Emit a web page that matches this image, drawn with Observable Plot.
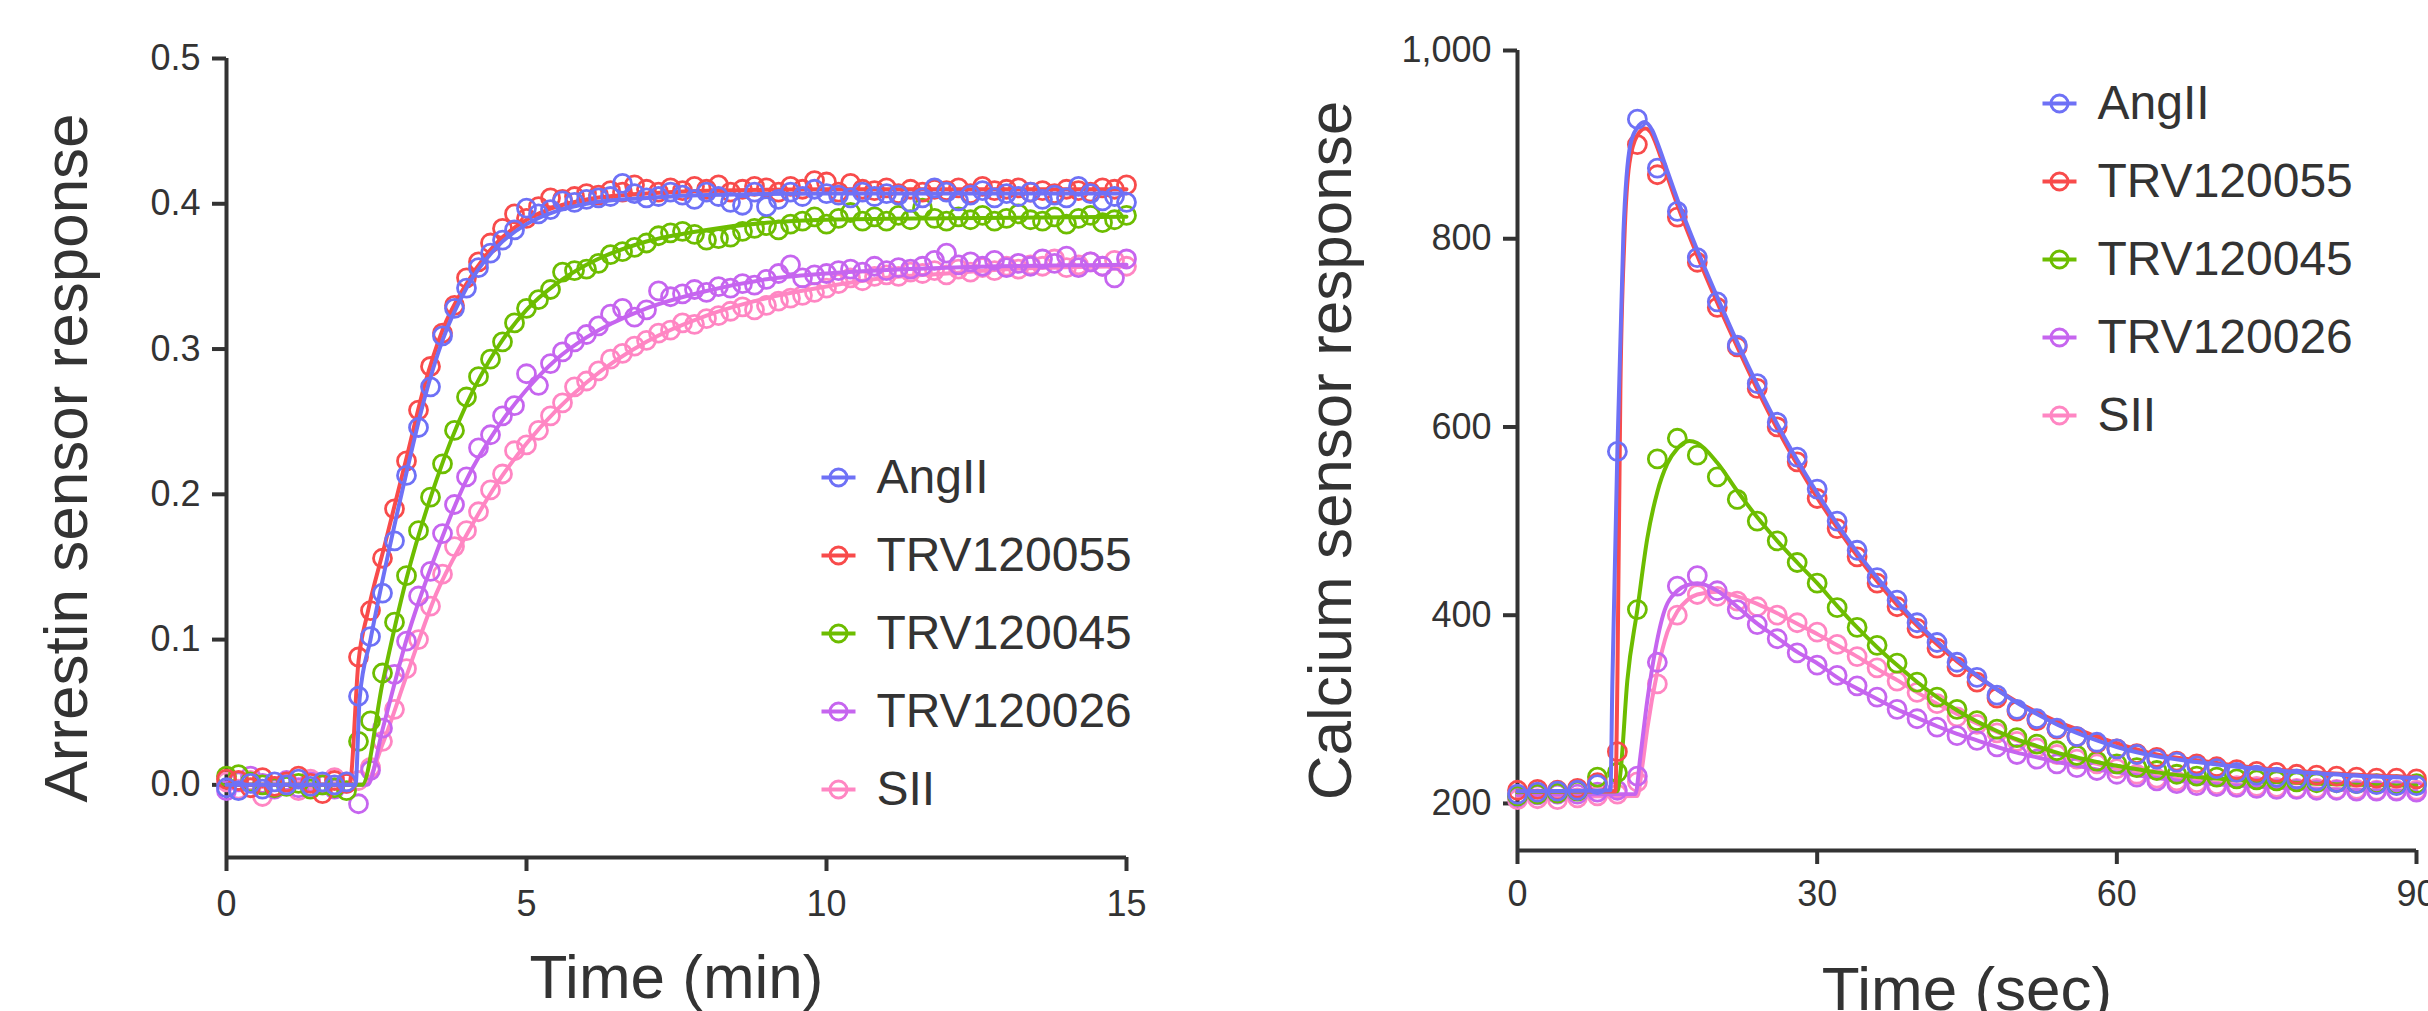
<!DOCTYPE html>
<html>
<head>
<meta charset="utf-8">
<script src="https://cdn.jsdelivr.net/npm/d3@7"></script>
<script src="https://cdn.jsdelivr.net/npm/@observablehq/plot@0.6"></script>
<style>
html, body { margin: 0; padding: 0; background: #fff; overflow: hidden; }
#wrap { position: relative; width: 2428px; height: 1011px; background: #fff; }
#left, #right { position: absolute; top: 0; }
#left { left: 0; width: 1200px; }
#right { left: 1250px; width: 1178px; }
#wrap svg { max-width: none !important; display: block; }
</style>
</head>
<body>
<div id="wrap"><div id="left"></div><div id="right"></div></div>
<script>
// ---------- shared ----------
const seriesNames = ["AngII", "TRV120055", "TRV120045", "TRV120026", "SII"];
const seriesColors = ["#6e71f6", "#f84b4b", "#6dbd00", "#c665ef", "#ff86c3"];

// ---------- left panel: arrestin (time in min) ----------
const arrTimeMin = [0,0.2,0.4,0.6,0.8,1,1.2,1.4,1.6,1.8,2,2.2,2.4,2.6,2.8,3,3.2,3.4,3.6,3.8,4,4.2,4.4,4.6,4.8,5,5.2,5.4,5.6,5.8,6,6.2,6.4,6.6,6.8,7,7.2,7.4,7.6,7.8,8,8.2,8.4,8.6,8.8,9,9.2,9.4,9.6,9.8,10,10.2,10.4,10.6,10.8,11,11.2,11.4,11.6,11.8,12,12.2,12.4,12.6,12.8,13,13.2,13.4,13.6,13.8,14,14.2,14.4,14.6,14.8,15];
const arrAngII = [-0.002,-0.004,0.001,-0.003,0.002,0.000,0.004,-0.001,0.002,0.000,0.002,
  0.061,0.102,0.132,0.168,0.213,0.246,0.274,0.309,0.328,0.342,0.356,0.366,0.375,0.382,
  0.397,0.393,0.396,0.402,0.401,0.403,0.404,0.405,0.414,0.407,0.404,0.405,0.408,0.406,0.403,0.408,0.405,0.401,0.399,0.408,0.398,0.403,0.408,0.405,0.410,0.407,0.406,0.404,0.408,0.405,0.407,0.406,0.401,0.404,0.411,0.408,0.402,0.406,0.409,0.404,0.407,0.405,0.408,0.403,0.406,0.404,0.412,0.407,0.402,0.405,0.401];
const arrTRV120055 = [0.004,0.003,-0.002,0.005,-0.001,0.002,0.006,0.001,-0.006,0.003,0.001,
  0.088,0.120,0.156,0.190,0.223,0.258,0.288,0.311,0.330,0.349,0.360,0.373,0.383,0.393,
  0.390,0.398,0.404,0.403,0.405,0.407,0.406,0.409,0.408,0.413,0.410,0.408,0.411,0.409,0.412,0.410,0.413,0.408,0.410,0.412,0.411,0.408,0.412,0.410,0.416,0.415,0.408,0.414,0.410,0.409,0.411,0.407,0.410,0.408,0.410,0.409,0.411,0.407,0.412,0.409,0.410,0.411,0.408,0.409,0.407,0.410,0.409,0.408,0.411,0.410,0.413];
const arrTRV120045 = [0.006,0.007,0.002,0.000,-0.002,-0.001,0.001,-0.003,0.000,-0.002,-0.004,
  0.030,0.044,0.077,0.112,0.144,0.175,0.198,0.221,0.244,0.267,0.281,0.293,0.305,0.318,
  0.328,0.334,0.341,0.353,0.354,0.355,0.359,0.365,0.367,0.370,0.373,0.378,0.380,0.381,0.379,0.375,0.376,0.377,0.381,0.383,0.385,0.382,0.386,0.388,0.391,0.386,0.390,0.394,0.388,0.391,0.388,0.392,0.389,0.397,0.390,0.388,0.391,0.389,0.392,0.388,0.390,0.393,0.389,0.388,0.391,0.386,0.390,0.392,0.387,0.389,0.392];
const arrTRV120026 = [-0.004,0.002,0.006,0.001,-0.003,0.003,-0.002,0.002,0.000,-0.003,0.001,
  -0.013,0.010,0.039,0.076,0.099,0.130,0.147,0.173,0.193,0.212,0.232,0.241,0.254,0.261,
  0.283,0.275,0.290,0.298,0.305,0.310,0.316,0.324,0.328,0.322,0.327,0.340,0.336,0.338,0.341,0.339,0.343,0.342,0.345,0.344,0.348,0.352,0.358,0.349,0.351,0.352,0.354,0.355,0.353,0.357,0.354,0.356,0.355,0.357,0.361,0.366,0.358,0.360,0.357,0.361,0.356,0.359,0.357,0.362,0.359,0.364,0.356,0.360,0.357,0.349,0.362];
const arrSII = [0.002,-0.003,0.003,-0.008,-0.001,0.001,-0.004,0.004,0.001,0.005,0.002,
  0.003,0.012,0.030,0.052,0.080,0.100,0.123,0.145,0.164,0.175,0.188,0.203,0.214,0.230,
  0.234,0.244,0.254,0.263,0.274,0.278,0.285,0.293,0.297,0.302,0.306,0.311,0.313,0.318,0.317,0.321,0.323,0.326,0.329,0.327,0.330,0.333,0.335,0.337,0.339,0.342,0.345,0.349,0.347,0.350,0.351,0.350,0.353,0.352,0.354,0.351,0.355,0.353,0.356,0.354,0.357,0.355,0.358,0.357,0.362,0.356,0.358,0.360,0.357,0.361,0.357];

// fitted curves (time, response)
const fitArrAngII = [[0,0],[2.15,0],[2.22,0.06],[2.4,0.1],[2.7,0.16],[3.0,0.215],[3.3,0.266],[3.6,0.306],[4.0,0.342],[4.5,0.37],[5.0,0.386],[5.5,0.395],[6.0,0.4],[7.0,0.404],[8.0,0.406],[10,0.407],[15,0.407]];
const fitArrTRV120055 = [[0,0],[2.05,0],[2.2,0.085],[2.35,0.118],[2.63,0.164],[3.0,0.225],[3.3,0.275],[3.6,0.313],[4.0,0.345],[4.5,0.373],[5.0,0.389],[5.5,0.398],[6.0,0.403],[7.0,0.407],[8.0,0.409],[10,0.41],[15,0.41]];
const fitArrTRV120045 = [[0,0],[2.26,0],[2.6,0.07],[3.0,0.142],[3.5,0.21],[4.0,0.262],[4.5,0.3],[5.0,0.327],[5.5,0.345],[6.0,0.358],[7.0,0.374],[8.0,0.382],[9.0,0.387],[10,0.389],[12,0.39],[15,0.391]];
const fitArrTRV120026 = [[0,0],[2.35,0],[2.6,0.038],[3.0,0.1],[3.5,0.16],[4.0,0.21],[4.5,0.245],[5.0,0.272],[5.5,0.293],[6.0,0.308],[7.0,0.328],[8.0,0.34],[9.0,0.348],[10,0.352],[12,0.356],[15,0.358]];
const fitArrSII = [[0,0],[2.3,0],[2.6,0.028],[3.0,0.075],[3.5,0.132],[4.0,0.172],[4.5,0.207],[5.0,0.235],[5.5,0.258],[6.0,0.277],[7.0,0.305],[8.0,0.323],[9.0,0.335],[10,0.343],[11,0.349],[12,0.352],[13,0.355],[15,0.357]];

const arrXTicks = [0, 5, 10, 15];
const arrYTicks = [0, 0.1, 0.2, 0.3, 0.4, 0.5];

// ---------- right panel: calcium (time in sec) ----------
const caTimeSec = [0,2,4,6,8,10,12,14,16,18,20,22,24,26,28,30,32,34,36,38,40,42,44,46,48,50,52,54,56,58,60,62,64,66,68,70,72,74,76,78,80,82,84,86,88,90];
const caAngII = [210,212,213,214,220,574,927,875,829,780,733,687,646,605,568,534,500,469,440,416,392,371,350,334,315,300,290,280,271,265,258,252,247,244,240,237,233,230,228,226,224,222,221,220,219,219];
const caTRV120055 = [214,215,214,216,222,255,900,868,823,775,727,685,641,600,563,524,492,462,434,409,386,365,345,329,312,298,288,279,271,264,258,253,249,245,242,239,236,234,233,231,230,229,228,227,227,226];
const caTRV120045 = [208,210,211,213,228,233,406,566,588,570,547,523,500,479,456,434,408,387,368,349,329,313,300,288,279,270,263,256,251,245,242,238,235,231,229,228,226,225,224,223,222,222,221,221,220,221];
const caTRV120026 = [207,209,210,210,212,214,229,350,431,442,426,406,390,375,360,347,336,325,313,300,290,281,272,267,260,252,247,242,238,235,231,228,224,221,219,218,217,216,215,215,214,214,213,213,213,212];
const caSII = [204,205,204,206,208,210,223,327,400,422,420,415,409,400,392,382,369,356,344,330,318,306,292,284,275,266,259,252,247,242,237,231,227,224,222,220,219,218,217,216,216,215,215,214,214,214];

const fitCaAngII = [[0,213],[9.3,214],[9.5,330],[10,575],[10.6,805],[11.3,900],[12,918],[12.7,924],[13.5,915],[14,902],[15,872],[16,842],[18,788],[20,738],[22,690],[24,645],[26,603],[28,565],[30,530],[32,497],[34,467],[36,440],[38,415],[40,392],[42,372],[44,353],[46,336],[48,321],[50,307],[52,295],[54,284],[56,275],[58,267],[60,260],[64,250],[68,244],[72,239],[76,235],[80,232],[85,229],[90,227]];
const fitCaTRV120055 = [[0,213],[9.8,213],[10,330],[10.3,640],[10.7,800],[11.2,880],[12,910],[12.8,917],[13.5,910],[14,897],[15,866],[16,836],[18,782],[20,732],[22,685],[24,640],[26,598],[28,560],[30,525],[32,493],[34,463],[36,436],[38,411],[40,389],[42,369],[44,351],[46,335],[48,321],[50,308],[52,297],[54,287],[56,279],[58,271],[60,264],[64,252],[68,246],[72,240],[76,236],[80,233],[85,230],[90,228]];
const fitCaTRV120045 = [[0,212],[10,213],[10.3,232],[11,331],[12,406],[13,482],[14,531],[15,561],[16,577],[17.2,585],[18,583],[20,562],[22,532],[24,504],[26,479],[28,456],[30,434],[32,410],[34,387],[36,366],[38,347],[40,329],[42,313],[44,299],[46,287],[48,277],[50,268],[52,261],[54,254],[56,249],[58,244],[60,240],[64,233],[68,228],[72,225],[80,221],[90,219]];
const fitCaTRV120026 = [[0,209],[11.8,210],[12.3,250],[13,310],[13.5,345],[14.6,401],[16,426],[17,432],[18,434],[20,426],[22,409],[24,391],[26,376],[28,361],[30,349],[32,334],[34,322],[36,311],[38,300],[40,291],[42,282],[44,274],[46,267],[48,260],[50,254],[52,249],[54,244],[56,240],[58,236],[60,233],[64,227],[68,222],[72,219],[80,215],[90,213]];
const fitCaSII = [[0,207],[12,208],[12.5,240],[13,280],[14,340],[15,382],[16,404],[17,416],[18,422],[20,425],[22,420],[24,412],[26,402],[28,391],[30,380],[32,368],[34,356],[36,343],[38,331],[40,318],[42,306],[44,295],[46,285],[48,276],[50,267],[52,260],[54,253],[56,247],[58,242],[60,237],[64,229],[68,224],[72,220],[80,216],[90,214]];

const caXTicks = [0, 30, 60, 90];
const caYTicks = [200, 400, 600, 800, 1000];

// ---------- drawing ----------
const FONT = "'Liberation Sans', Arial, Helvetica, sans-serif";
const INK = "#333333";
const lineSymbol = { draw(ctx) { ctx.moveTo(-17, 0); ctx.lineTo(17, 0); } };

function panel(cfg) {
  const marks = [];
  marks.push(Plot.axisY({ticks: cfg.yTicks, tickFormat: cfg.yFormat, tickSize: 14, tickPadding: 12,
    fontSize: 36, stroke: INK, fill: INK, strokeWidth: 4, label: null}));
  marks.push(Plot.axisX({ticks: cfg.xTicks, tickFormat: d => String(d), tickSize: 14, tickPadding: cfg.xPad,
    fontSize: 36, stroke: INK, fill: INK, strokeWidth: 4, label: null}));
  marks.push(Plot.ruleX([cfg.xDomain[0]], {stroke: INK, strokeWidth: 4}));
  marks.push(Plot.ruleY([cfg.yDomain[0]], {stroke: INK, strokeWidth: 4}));
  for (let k = seriesNames.length - 1; k >= 0; k--) {
    const pts = cfg.times.map((t, i) => ({t, v: cfg.values[k][i]}));
    marks.push(Plot.line(cfg.fits[k], {x: d => d[0], y: d => d[1], stroke: seriesColors[k], strokeWidth: 4, curve: "monotone-x"}));
    marks.push(Plot.dot(pts, {x: "t", y: "v", r: 9, stroke: seriesColors[k], strokeWidth: 2.8, fill: "none"}));
  }
  seriesNames.forEach((name, i) => {
    const dy = cfg.legDy + 78 * i;
    marks.push(Plot.dot([name], {frameAnchor: "top-left", dx: cfg.legDx, dy, symbol: lineSymbol, r: 9, stroke: seriesColors[i], strokeWidth: 4}));
    marks.push(Plot.dot([name], {frameAnchor: "top-left", dx: cfg.legDx, dy, r: 8.5, stroke: seriesColors[i], strokeWidth: 3, fill: "none"}));
    marks.push(Plot.text([name], {frameAnchor: "top-left", dx: cfg.legTextDx, dy, text: d => d, textAnchor: "start", lineAnchor: "middle", fontSize: 48, fill: INK}));
  });
  marks.push(Plot.text([cfg.yTitle], {frameAnchor: "left", rotate: -90, textAnchor: "middle", lineAnchor: "top", dx: cfg.yTitleDx, text: d => d, fontSize: 62, fill: INK}));
  marks.push(Plot.text([cfg.xTitle], {frameAnchor: "bottom", textAnchor: "middle", lineAnchor: "bottom", dy: cfg.xTitleDy, text: d => d, fontSize: 62, fill: INK}));

  return Plot.plot({
    width: cfg.width, height: 1011,
    marginLeft: cfg.mL, marginRight: cfg.mR, marginTop: cfg.mT, marginBottom: cfg.mB,
    x: {domain: cfg.xDomain, label: null},
    y: {domain: cfg.yDomain, label: null},
    style: {background: "white", color: INK, fontFamily: FONT, overflow: "visible"},
    marks
  });
}

const leftChart = panel({
  times: arrTimeMin,
  values: [arrAngII, arrTRV120055, arrTRV120045, arrTRV120026, arrSII],
  fits: [fitArrAngII, fitArrTRV120055, fitArrTRV120045, fitArrTRV120026, fitArrSII],
  xDomain: [0, 15], yDomain: [-0.05, 0.5], xTicks: arrXTicks, yTicks: arrYTicks,
  yFormat: d3.format(".1f"), xPad: 19,
  width: 1200, mL: 226, mR: 74, mT: 58, mB: 154,
  legDx: 612, legDy: 419, legTextDx: 650,
  yTitle: "Arrestin sensor response", xTitle: "Time (min)", yTitleDx: -184, xTitleDy: 140
});
document.getElementById("left").appendChild(leftChart);

const rightChart = panel({
  times: caTimeSec,
  values: [caAngII, caTRV120055, caTRV120045, caTRV120026, caSII],
  fits: [fitCaAngII, fitCaTRV120055, fitCaTRV120045, fitCaTRV120026, fitCaSII],
  xDomain: [0, 90], yDomain: [150, 1000], xTicks: caXTicks, yTicks: caYTicks,
  yFormat: d3.format(","), xPad: 16,
  width: 1178, mL: 267, mR: 12, mT: 50, mB: 161,
  legDx: 542, legDy: 53, legTextDx: 580,
  yTitle: "Calcium sensor response", xTitle: "Time (sec)", yTitleDx: -211, xTitleDy: 159
});
document.getElementById("right").appendChild(rightChart);
</script>
</body>
</html>
